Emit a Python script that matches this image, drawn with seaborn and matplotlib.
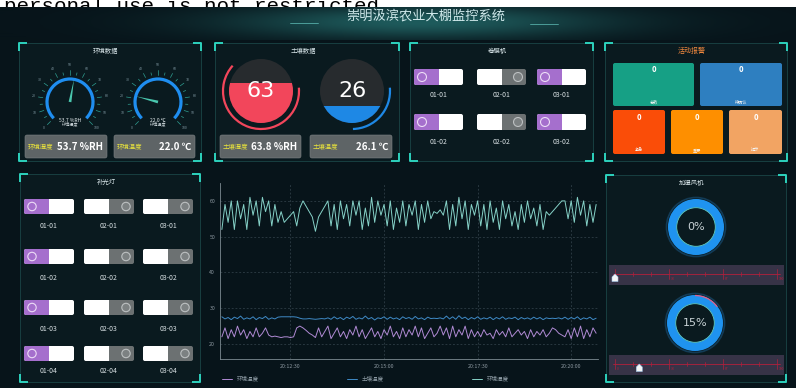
import numpy as np
import pandas as pd
import seaborn as sns
import matplotlib.pyplot as plt
import matplotlib.dates as mdates
from matplotlib.patches import Rectangle, FancyBboxPatch, Circle, Arc, Wedge, Polygon
from matplotlib.colors import LinearSegmentedColormap

# ---- data ----
gauge_values = [53.7, 22.0]
gauge_texts = ['53.7 %RH', '22.0 ℃']
gauge_names = ['环境湿度', '环境温度']
soil_fill = [63, 26]
soil_texts = ['63.8 %RH', '26.1 ℃']
soil_names = ['土壤湿度', '土壤温度']
film_states = [[1, 0, 1], [1, 0, 1]]          # 卷膜机, rows x cols
light_states = [[1, 0, 0], [1, 0, 0], [1, 0, 0], [1, 0, 0]]  # 补光灯
alarm_names = ['总数', '待确认', '紧急', '重要', '提示']
alarm_counts = [0, 0, 0, 0, 0]
fan_percent = [0, 15]

# line chart, one sample every 5 s from 20:10:40 to 20:20:40
env_temp = [22, 24.5, 21.5, 24, 22, 25, 22.5, 24, 21.5, 23.5, 22, 24.5, 22, 23, 24.5, 22.5,
            22, 22.2, 22, 21.8, 22, 22, 21.8, 22, 24.5, 25, 24.5, 23.8, 23, 22.5, 21.8, 24.5,
            22, 23.5, 25, 21.5, 23, 24.5, 22, 23.5, 21.5, 24, 22.5, 25, 22, 24, 21.5, 23,
            24.5, 22, 23.5, 21.5, 24, 22.5, 25, 22, 23.5, 21.5, 24.5, 22, 24, 22.5, 25, 22,
            24.5, 21.5, 23, 24.5, 22, 23, 25, 22.5, 24.5, 21.5, 25, 22, 24, 22.5, 25, 21.5,
            24, 22, 23.5, 22, 24, 22.5, 23, 21.5, 24, 22.5, 23.5, 22, 24.5, 22, 23, 24,
            22.5, 23.5, 21.5, 24, 22, 23.5, 22.5, 24, 22, 23, 24.5, 24, 23, 22.5, 22, 24,
            21.5, 24.5, 22, 25, 21.5, 24, 22, 24.5, 23]
soil_temp = [27.6, 27, 27.4, 26.8, 27.5, 27.1, 27.8, 26.9, 27.3, 27, 27.6, 26.8, 27.4, 27.1,
             27.7, 26.9, 27.3, 27, 27.5, 27.6, 27.6, 27.6, 27.6, 27.6, 27.5, 27.2, 27, 27,
             27.1, 27, 26.9, 27, 27.1, 27, 27.3, 26.9, 27.6, 27, 27.4, 26.8, 27.5, 27.1,
             27.7, 26.9, 27.3, 27.0, 27.8, 27, 27.4, 26.7, 27.3, 27.1, 27.6, 26.9, 27.5, 27,
             27.3, 26.8, 27.6, 27.1, 27.4, 26.9, 27.7, 27, 27.3, 26.8, 27.5, 27.1, 27.2, 27.1,
             27.3, 27, 27.8, 27, 27.6, 26.9, 27.9, 27.1, 27.5, 26.8, 27.4, 27, 27.6, 26.9,
             27.3, 27, 27.5, 26.8, 27.4, 27, 27.6, 26.9, 27.3, 27.1, 27.5, 26.8, 27.4, 27,
             27.3, 26.9, 27.5, 27, 27.4, 26.8, 27.3, 27.1, 27.2, 27.1, 27.3, 27, 27.5, 26.9,
             27.4, 27, 27.6, 26.8, 27.3, 27, 27.5, 26.8, 27.2]
env_hum = [52, 59, 54, 60, 52, 60, 55, 59, 52, 61, 56, 60, 53, 61, 57, 60, 53, 59, 54, 57,
           54, 55, 56, 57, 53, 58, 60, 58.5, 57, 55.5, 51.5, 55.5, 57, 58.5, 60, 53, 59, 52,
           60, 55, 59, 53, 60, 56, 60, 52, 58, 53, 61, 54, 60, 56, 59, 53, 60, 52, 58, 54,
           60, 53, 59, 56, 60, 52, 59, 54, 60, 55, 57, 56.5, 57.5, 56, 60, 52, 59, 53, 61,
           55, 60, 52, 59, 56, 60, 53, 59, 52, 60, 54, 58, 52, 60, 55, 59, 53, 57, 52, 59,
           54, 60, 55, 58, 53, 59, 52, 57, 56, 57, 58, 59, 60, 60, 55, 60, 54, 61, 56, 60,
           53, 59, 54, 59]
times = pd.date_range('2023-01-01 20:10:40', periods=len(env_hum), freq='5s')
x_ticks = ['20:12:30', '20:15:00', '20:17:30', '20:20:00']
y_ticks = [20, 30, 40, 50, 60]

sns.set_style('dark')
plt.rcParams['font.family'] = ['Noto Sans CJK SC', 'DejaVu Sans']

BG = '#07141a'
fig = plt.figure(figsize=(7.96, 3.88), dpi=100)
fig.patch.set_facecolor(BG)
ax = fig.add_axes([0, 0, 1, 1])
ax.set_xlim(0, 796)
ax.set_ylim(388, 0)
ax.axis('off')

# watermark strip at the very top; the banner image below covers its lower half
ax.add_patch(Rectangle((0, 0), 796, 8, fc='white', ec='none', zorder=0.1))
ax.text(4, 12.5, 'personal use is not restricted.', family='Liberation Mono', fontsize=15,
        color='black', va='baseline', zorder=0.2)

# top banner
yy, xx = np.mgrid[8:40, 0:796]
glow = np.exp(-((xx - 420) / 190.0) ** 2 - ((yy - 22) / 16.0) ** 2)
ax.imshow(glow, extent=(0, 796, 40, 7.5), aspect='auto', zorder=0.5,
          cmap=LinearSegmentedColormap.from_list('g', [BG, '#1e5b5c']))
ax.add_patch(Rectangle((0, 39.5), 796, 5, fc=BG, ec='none', zorder=0.6))
ax.set_xlim(0, 796)
ax.set_ylim(388, 0)
ax.plot([290, 318], [23, 23], color='#6fd9d0', lw=0.6, alpha=0.7)
ax.plot([530, 558], [24, 24], color='#6fd9d0', lw=0.6, alpha=0.7)
ax.text(426, 17, '崇明汲滨农业大棚监控系统', fontsize=9.5, color='#cfe8ea', ha='center', va='center')


def pol(cx, cy, r, deg):
    a = np.radians(deg)
    return cx + r * np.cos(a), cy - r * np.sin(a)


def sarc(cx, cy, r, p1, p2, **kw):
    # arc drawn counter-clockwise on screen from p1 to p2 degrees
    ax.add_patch(Arc((cx, cy), 2 * r, 2 * r, theta1=-p2, theta2=-p1, **kw))


def panel(x0, y0, x1, y1, title, tcolor='#d5e2e6', tsize=4.6):
    ax.add_patch(Rectangle((x0, y0), x1 - x0, y1 - y0, fc='#0a1a1f', ec='#1b4547', lw=0.6, zorder=1))
    L = 8
    for cx, cy, dx, dy in [(x0, y0, 1, 1), (x1, y0, -1, 1), (x0, y1, 1, -1), (x1, y1, -1, -1)]:
        ax.plot([cx + dx * L, cx, cx], [cy, cy, cy + dy * L], color='#2dd2bd', lw=1.4,
                solid_capstyle='butt', zorder=2)
    ax.text((x0 + x1) / 2 - 4, y0 + 8, title, color=tcolor, fontsize=tsize, ha='center', va='center', zorder=3)


def valbox(x0, x1, name, text):
    ax.add_patch(FancyBboxPatch((x0, 135), x1 - x0, 23, boxstyle='round,pad=0,rounding_size=2',
                                fc='#5e6466', ec='#7c8284', lw=0.4, zorder=3))
    ax.text(x0 + 3, 147, name, color='#e8e23c', fontsize=4.6, va='center', zorder=4)
    ax.text(x1 - 4, 147, text, color='white', fontsize=7, weight='bold', ha='right', va='center', zorder=4)


def toggle(x, y, w, h, on, label, ly):
    left, right = ('#a56fcd', '#ffffff') if on else ('#ffffff', '#6c7172')
    ax.add_patch(FancyBboxPatch((x, y), w, h, boxstyle='round,pad=0,rounding_size=2', fc=right, ec='none', zorder=3))
    ax.add_patch(FancyBboxPatch((x, y), w / 2, h, boxstyle='round,pad=0,rounding_size=2', fc=left, ec='none', zorder=3))
    ax.add_patch(Rectangle((x + w / 2 - 2, y), 2, h, fc=left, ec='none', zorder=3))
    cx = x + 8 if on else x + w - 8
    ax.add_patch(Circle((cx, y + h / 2), h * 0.28, fc=left if on else '#7c8182',
                        ec='#ecdcf6' if on else '#bcc0c1', lw=0.8, zorder=4))
    ax.text(x + w / 2, ly, label, color='#d8e0e3', fontsize=5, ha='center', va='center', zorder=4)


# ---- panel 1: gauges ----
panel(19, 43, 201, 161, '环境数据')
for cx, cy, v, txt, name in zip([70, 158], [102, 102], gauge_values, gauge_texts, gauge_names):
    sarc(cx, cy, 23, -45, 225, color='#1f8ef0', lw=2.3, zorder=3)
    for k in range(0, 101, 5):
        a = 225 - k * 2.7
        r2 = 32 if k % 10 == 0 else 30
        x1, y1 = pol(cx, cy, 27.5, a)
        x2, y2 = pol(cx, cy, r2, a)
        ax.plot([x1, x2], [y1, y2], color='#2f9f92', lw=0.5, zorder=3)
        if k % 10 == 0:
            lx, ly = pol(cx, cy, 37, a)
            ax.text(lx, ly, str(k), color='#7f98a2', fontsize=2.6, ha='center', va='center', zorder=3)
    a = 225 - v * 2.7
    tip = pol(cx, cy, 23, a)
    b1 = pol(cx, cy, 1.4, a + 90)
    b2 = pol(cx, cy, 1.4, a - 90)
    ax.add_patch(Polygon([tip, b1, b2], closed=True, fc='#4ac7ae', ec='none', zorder=4))
    ax.text(cx, cy + 18, txt, color='#e6eef0', fontsize=3.6, ha='center', va='center', zorder=4)
    ax.text(cx, cy + 23, name, color='#c8d2d6', fontsize=3, ha='center', va='center', zorder=4)
valbox(25, 107, gauge_names[0], gauge_texts[0])
valbox(114, 195, gauge_names[1], gauge_texts[1])

# ---- panel 2: liquid fill ----
panel(215, 43, 399, 161, '土壤数据')
for cx, v, col in zip([261, 352], soil_fill, ['#f2465b', '#1e88e5']):
    cy, r = 91, 32
    disk = Circle((cx, cy), r, fc='#272b2e', ec='none', zorder=3)
    ax.add_patch(disk)
    fill = Rectangle((cx - r, cy + r - v / 100 * 2 * r), 2 * r, v / 100 * 2 * r, fc=col, ec='none', zorder=3)
    ax.add_patch(fill)
    fill.set_clip_path(disk)
    sarc(cx, cy, 38, 5 - v / 100 * 360, 5, color=col, lw=1.6, zorder=3)
    ax.text(cx, cy, str(v), color='white', fontsize=16, family='DejaVu Sans', ha='center', va='center', zorder=4)
valbox(220, 301, soil_names[0], soil_texts[0])
valbox(310, 392, soil_names[1], soil_texts[1])

# ---- panel 3: 卷膜机 ----
panel(410, 43, 593, 161, '卷膜机')
for ri, (ty, ly) in enumerate(zip([69, 114], [95, 142])):
    for ci, tx in enumerate([414, 477, 537]):
        toggle(tx, ty, 49, 16, film_states[ri][ci], f'{ci + 1:02d}-{ri + 1:02d}', ly)

# ---- panel 4: alarms ----
panel(605, 43, 787, 161, '活动报警', tcolor='#f0883e', tsize=5)
tiles = [(613, 63, 81, 43, '#16a085'), (700, 63, 82, 43, '#2e7fc0'),
         (613, 110, 52, 44, '#fa4d08'), (671, 110, 52, 44, '#fe8f00'), (729, 110, 53, 44, '#f2a463')]
for (x, y, w, h, c), name, cnt in zip(tiles, alarm_names, alarm_counts):
    ax.add_patch(FancyBboxPatch((x, y), w, h, boxstyle='round,pad=0,rounding_size=2', fc=c, ec='none', zorder=3))
    ax.text(x + w / 2, y + 7, str(cnt), color='white', fontsize=5.5, weight='bold', ha='center', va='center', zorder=4)
    ax.text(x + w / 2, y + h - 4, name, color='#f4f4f4', fontsize=3, ha='center', va='center', zorder=4)

# ---- panel 5: 补光灯 ----
panel(20, 174, 200, 382, '补光灯')
for ri, (ty, ly) in enumerate(zip([199, 249, 300, 346], [226, 278, 329, 371])):
    for ci, tx in enumerate([24, 84, 143]):
        toggle(tx, ty, 50, 15, light_states[ri][ci], f'{ci + 1:02d}-{ri + 1:02d}', ly)

# ---- panel 6: 加湿风机 ----
panel(606, 175, 786, 382, '加湿风机')
for (cx, cy), pct, sy in zip([(696, 227), (695, 323)], fan_percent, [265, 355]):
    ax.add_patch(Circle((cx, cy), 29.5, fc='none', ec='#1c5c8c', lw=1.2, alpha=0.5, zorder=3))
    ax.add_patch(Wedge((cx, cy), 28, 0, 360, width=8.5, fc='#1f93f0', ec='none', zorder=3))
    ax.add_patch(Circle((cx, cy), 19.3, fc='none', ec='#63d3cb', lw=0.6, zorder=4))
    if pct > 0:
        sarc(cx, cy, 27.5, 90 - pct / 100 * 360, 90, color='#e0608a', lw=0.9, zorder=4)
    ax.text(cx, cy, f'{pct}%', color='#c9d3d6', fontsize=8, family='DejaVu Sans', ha='center', va='center', zorder=4)
    ax.add_patch(Rectangle((609, sy), 175, 20, fc='#373347', ec='none', zorder=3))
    ly = sy + 9
    ax.plot([613, 780], [ly, ly], color='#b3203c', lw=0.6, zorder=4)
    for i in range(10):
        x = 615 + i * 162 / 9
        h = 5 if i % 3 == 0 else 2
        ax.plot([x, x], [ly - h, ly + h], color='#b3203c', lw=0.5, zorder=4)
        if i % 3 == 0:
            ax.text(x + 2, ly + 6, str(round(i * 100 / 9)), color='#b3203c', fontsize=2.4, zorder=4)
    hx, hy = 615 + pct / 100 * 162, ly + 4
    ax.add_patch(Polygon([(hx - 3, hy + 3.5), (hx + 3, hy + 3.5), (hx + 3, hy - 1), (hx, hy - 4), (hx - 3, hy - 1)],
                         closed=True, fc='#f4f6f8', ec='#9fc6e8', lw=0.4, zorder=5))

# ---- line chart ----
df = pd.DataFrame({'time': times, '环境温度': env_temp, '土壤温度': soil_temp, '环境湿度': env_hum})
long = df.melt(id_vars='time', var_name='series', value_name='value')
cax = fig.add_axes([220 / 796, 29 / 388, 378 / 796, 176 / 388])
cax.set_facecolor('none')
palette = {'环境温度': '#b08ad4', '土壤温度': '#3f8ac6', '环境湿度': '#86d2c8'}
sns.lineplot(data=long, x='time', y='value', hue='series', hue_order=list(palette), palette=palette,
             lw=0.7, ax=cax)
cax.set_xlim(mdates.date2num(pd.Timestamp('2023-01-01 20:10:37')),
             mdates.date2num(pd.Timestamp('2023-01-01 20:20:43')))
cax.set_ylim(15.8, 65)
cax.set_yticks(y_ticks)
cax.set_xticks(mdates.date2num(pd.to_datetime(['2023-01-01 ' + s for s in x_ticks])))
cax.set_xticks(mdates.date2num(pd.date_range('2023-01-01 20:10:50', '2023-01-01 20:20:40', freq='50s')), minor=True)
cax.xaxis.set_major_formatter(mdates.DateFormatter('%H:%M:%S'))
cax.set_xlabel('')
cax.set_ylabel('')
cax.grid(True, which='major', color='#3b4b55', ls=(0, (3, 3)), lw=0.45)
cax.tick_params(axis='both', which='both', colors='#8e9aa2', labelsize=3.8, length=2, width=0.4, pad=1.5)
cax.tick_params(axis='x', which='minor', length=1.5)
for s in ['top', 'right']:
    cax.spines[s].set_visible(False)
for s in ['left', 'bottom']:
    cax.spines[s].set_color('#7d8b92')
    cax.spines[s].set_linewidth(0.6)
cax.legend(loc='upper left', bbox_to_anchor=(0, -0.085), ncol=3, frameon=False, fontsize=4,
           labelcolor='#8d9ba4', handlelength=1.8, handletextpad=0.9, columnspacing=15.8,
           borderaxespad=0)

fig.savefig('out.png', dpi=100, facecolor=BG)
